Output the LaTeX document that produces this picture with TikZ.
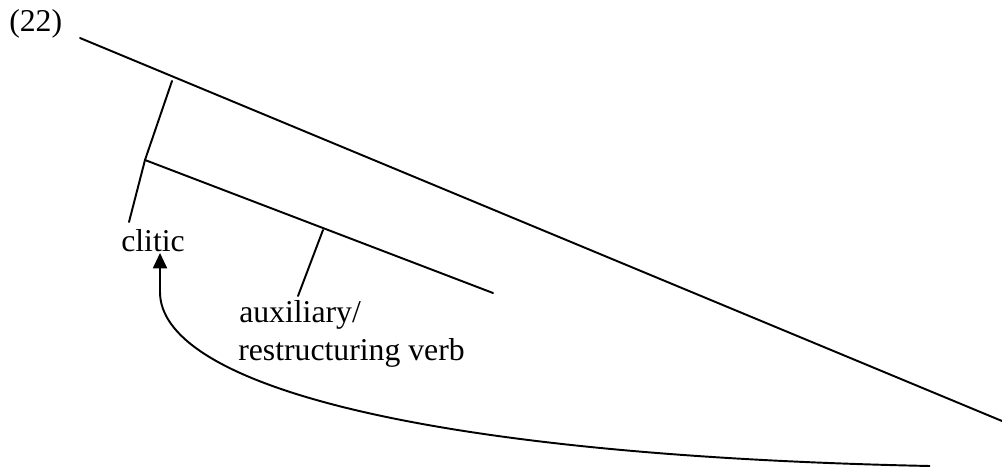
\documentclass[tikz,border=0pt]{standalone}
\usepackage{fontspec}
\setmainfont{Liberation Serif}
\usetikzlibrary{arrows.meta}
\tikzset{
  branch/.style={line width=1.45pt, line cap=round},
  lbl/.style={inner sep=0pt, anchor=base west, font=\fontsize{23.8}{28}\selectfont},
  move/.style={line width=1.45pt, -{Triangle[width=10.5pt,length=11.5pt]}}
}
\begin{document}
\begin{tikzpicture}[x=0.75pt,y=-0.75pt]
\useasboundingbox (0,0) rectangle (1002,468);
% tree points
\coordinate (top) at (80,38);
\coordinate (topend) at (1002,421);
\coordinate (b1) at (172,81);
\coordinate (n1) at (145,160);
\coordinate (n1end) at (493,293);
\coordinate (cl) at (129,222);
\coordinate (b2) at (323,230);
\coordinate (aux) at (298,296);
\coordinate (start) at (930,466);
\coordinate (bend) at (160,292);
% labels
\node[lbl] (ex) at (9,31) {(22)};
\node[lbl] (clitic) at (121,251) {clitic};
\node[lbl] (auxl) at (239,322) {auxiliary/};
\node[lbl] (rv) at (238,360) {restructuring verb};
\coordinate (tip) at (160,253);
% branches
\draw[branch] (top) -- (topend);
\draw[branch] (b1) -- (n1);
\draw[branch] (n1) -- (n1end);
\draw[branch] (n1) -- (cl);
\draw[branch] (b2) -- (aux);
% movement arrow
\draw[move] (start) .. controls (400,455) and (160,380) .. (bend) -- (tip);
\end{tikzpicture}
\end{document}
